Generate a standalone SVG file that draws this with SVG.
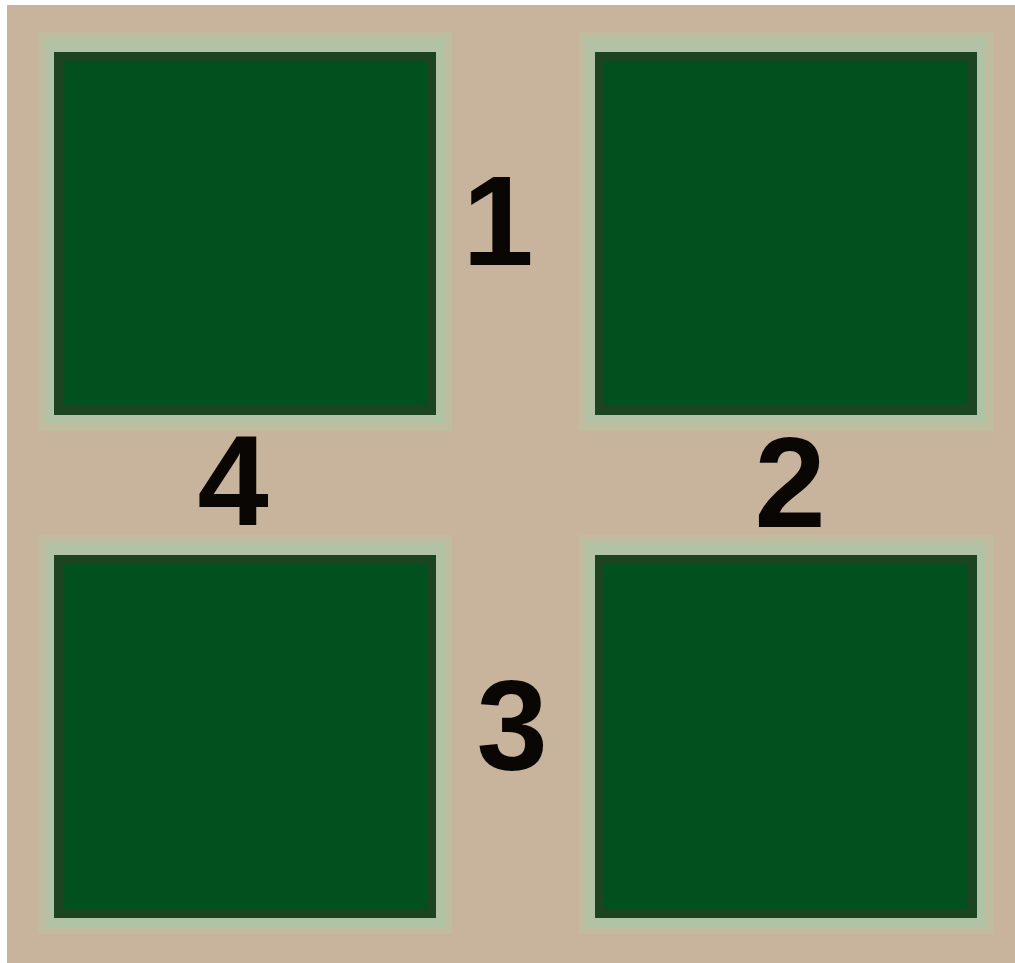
<svg xmlns="http://www.w3.org/2000/svg" width="1015" height="963" viewBox="0 0 1015 963">
<defs>
<style>
.halo{fill:#b2c2a4}
.halo2{fill:#bfbca0}
.sq{fill:#03501f;stroke:#1d4420;stroke-width:9}
.num{font-family:"Liberation Sans",Arial,sans-serif;font-weight:bold;font-size:128px;fill:#0a0604;text-anchor:middle}
</style>
</defs>
<rect x="0" y="0" width="1015" height="963" fill="#ffffff"/>
<rect x="7" y="5" width="1008" height="958" fill="#c8b49c"/>
<g id="square-top-left">
<rect class="halo2" x="38" y="32" width="414" height="399"/>
<rect class="halo" x="45" y="38" width="400" height="386"/>
<rect class="sq" x="58.5" y="56.5" width="373" height="354"/>
</g>
<g id="square-top-right">
<rect class="halo2" x="579" y="32" width="414" height="399"/>
<rect class="halo" x="586" y="38" width="400" height="386"/>
<rect class="sq" x="599.5" y="56.5" width="373" height="354"/>
</g>
<g id="square-bottom-left">
<rect class="halo2" x="38" y="535" width="414" height="399"/>
<rect class="halo" x="45" y="541" width="400" height="386"/>
<rect class="sq" x="58.5" y="559.5" width="373" height="354"/>
</g>
<g id="square-bottom-right">
<rect class="halo2" x="579" y="535" width="414" height="399"/>
<rect class="halo" x="586" y="541" width="400" height="386"/>
<rect class="sq" x="599.5" y="559.5" width="373" height="354"/>
</g>
<g id="label-1"><text class="num" x="498" y="265">1</text></g>
<g id="label-2"><text class="num" x="790" y="527">2</text></g>
<g id="label-3"><text class="num" x="512" y="770">3</text></g>
<g id="label-4"><text class="num" x="233" y="525">4</text></g>
</svg>
